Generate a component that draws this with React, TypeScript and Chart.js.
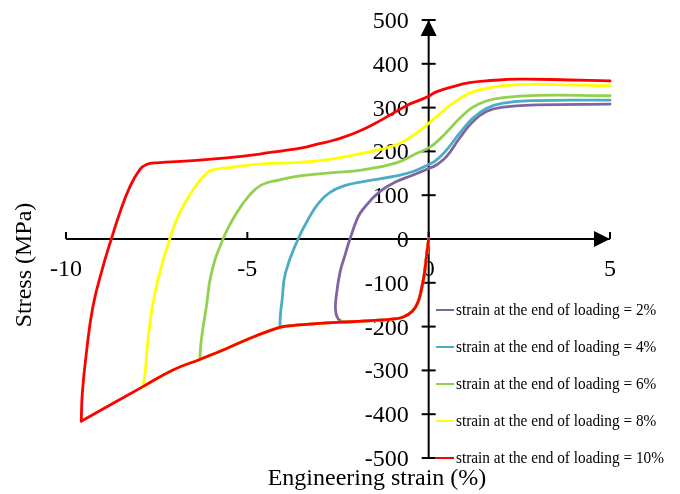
import { useEffect, useRef } from "react";
import { Chart, registerables } from "chart.js";

Chart.register(...registerables);

// ---------- text ----------
const X_TICKS = [-10, -5, 0, 5];
const Y_TICKS = [-500, -400, -300, -200, -100, 0, 100, 200, 300, 400, 500];
const X_TITLE = "Engineering strain (%)";
const Y_TITLE = "Stress (MPa)";
const SERIES_LABELS = [
  "strain at the end of loading = 2%",
  "strain at the end of loading = 4%",
  "strain at the end of loading = 6%",
  "strain at the end of loading = 8%",
  "strain at the end of loading = 10%",
];
const SERIES_COLORS = ["#8064A2", "#4BACC6", "#92D050", "#FFFF00", "#FF0000"];

// ---------- data ----------
// shared compressive loading branch (from origin to the left)
const COMP_X = [0, -0.06, -0.12, -0.2, -0.3, -0.45, -0.7, -1.0, -1.72, -2.4, -3.1, -3.7, -4.02, -4.3, -4.94, -5.6, -6.31, -7.05, -7.88, -8.7, -9.58];
const COMP_Y = [0, -40, -80, -115, -145, -165, -178, -183, -187, -190, -193, -197, -200, -207, -227, -251, -275, -299, -337, -375, -416];

// end of loading points
const END_2 = [-2.3, -189];
const END_4 = [-4.1, -201];
const END_6 = [-6.31, -275];
const END_8 = [-7.88, -338];
const END_10 = [-9.58, -416];

// reverse (tensile) branches
const REV_2_X = [-2.45, -2.53, -2.57, -2.56, -2.45, -2.3, -2.15, -1.95, -1.81, -1.35, -0.89, -0.43, 0, 0.21, 0.49, 0.85, 1.22, 1.59, 2.05, 2.97, 5];
const REV_2_Y = [-186, -177, -160, -139, -78, -35, 5, 50, 68, 108, 131, 146, 161, 169, 188, 230, 268, 291, 301, 306, 308];

const REV_4_X = [-4.09, -4.04, -3.95, -3.6, -3.28, -3.05, -2.73, -2.27, -1.81, -0.89, -0.43, 0, 0.21, 0.49, 0.85, 1.22, 1.59, 2.05, 2.97, 5];
const REV_4_Y = [-175, -139, -78, 0, 51, 80, 106, 123, 131, 144, 154, 170, 180, 203, 241, 276, 298, 310, 316, 317];

const REV_6_X = [-6.27, -6.13, -5.99, -5.67, -5.3, -4.94, -4.62, -4.11, -3.56, -2.73, -1.81, -0.89, -0.34, 0, 0.2, 0.45, 0.85, 1.2, 1.59, 2.05, 2.97, 5];
const REV_6_Y = [-231, -155, -78, 0, 59, 100, 123, 135, 144, 151, 158, 174, 195, 208, 220, 240, 275, 300, 315, 323, 328, 327];

const REV_8_X = [-7.82, -7.74, -7.62, -7.42, -7.14, -6.87, -6.5, -6.13, -5.95, -5.5, -4.66, -3.56, -2.73, -1.81, -0.89, -0.4, 0, 0.21, 0.67, 1.13, 1.59, 2.05, 2.97, 5];
const REV_8_Y = [-305, -231, -155, -78, 0, 59, 112, 150, 158, 163, 171, 175, 182, 196, 215, 238, 264, 279, 310, 333, 344, 350, 353, 350];

const REV_10_X = [-9.55, -9.44, -9.26, -8.98, -8.75, -8.52, -8.24, -7.97, -7.78, -7.5, -6.5, -5.5, -4.66, -4.0, -3.5, -3.1, -2.6, -2.0, -1.3, -0.6, -0.25, 0, 0.21, 0.67, 1.13, 1.59, 2.51, 3.89, 5];
const REV_10_Y = [-352, -261, -155, -63, 0, 59, 119, 158, 170, 174, 179, 186, 194, 202, 208, 216, 226, 243, 272, 305, 317, 326, 336, 348, 357, 361, 365, 363, 361];

function buildCurve(end: number[], revX: number[], revY: number[], sharp: boolean) {
  const pts: { x: number; y: number }[] = [];
  for (let i = 0; i < COMP_X.length; i++) {
    if (COMP_X[i] > end[0] + 0.01) pts.push({ x: COMP_X[i], y: COMP_Y[i] });
  }
  pts.push({ x: end[0], y: end[1] });
  if (sharp) pts.push({ x: end[0], y: end[1] });
  for (let i = 0; i < revX.length; i++) pts.push({ x: revX[i], y: revY[i] });
  return pts;
}

const CURVES = [
  buildCurve(END_2, REV_2_X, REV_2_Y, false),
  buildCurve(END_4, REV_4_X, REV_4_Y, true),
  buildCurve(END_6, REV_6_X, REV_6_Y, true),
  buildCurve(END_8, REV_8_X, REV_8_Y, true),
  buildCurve(END_10, REV_10_X, REV_10_Y, true),
];

const SERIF = '"Liberation Serif", "Times New Roman", serif';

const axesPlugin = {
  id: "centerAxes",
  beforeDatasetsDraw(chart: any) {
    const ctx = chart.ctx as CanvasRenderingContext2D;
    const xs = chart.scales.x;
    const ys = chart.scales.y;
    const x0 = xs.getPixelForValue(0);
    const y0 = ys.getPixelForValue(0);
    const xMin = xs.getPixelForValue(X_TICKS[0]);
    const xMax = xs.getPixelForValue(X_TICKS[X_TICKS.length - 1]);
    const yMin = ys.getPixelForValue(Y_TICKS[0]);
    const yMax = ys.getPixelForValue(Y_TICKS[Y_TICKS.length - 1]);
    ctx.save();
    ctx.strokeStyle = "#000";
    ctx.fillStyle = "#000";
    ctx.lineWidth = 2;
    // x axis
    ctx.beginPath();
    ctx.moveTo(xMin, y0);
    ctx.lineTo(xMax, y0);
    ctx.stroke();
    for (const t of X_TICKS) {
      const px = xs.getPixelForValue(t);
      ctx.beginPath();
      ctx.moveTo(px, y0);
      ctx.lineTo(px, y0 - 7);
      ctx.stroke();
    }
    // arrow right
    ctx.beginPath();
    ctx.moveTo(xMax, y0);
    ctx.lineTo(xMax - 16, y0 - 8);
    ctx.lineTo(xMax - 16, y0 + 8);
    ctx.closePath();
    ctx.fill();
    // y axis
    ctx.beginPath();
    ctx.moveTo(x0, yMin);
    ctx.lineTo(x0, yMax);
    ctx.stroke();
    for (const t of Y_TICKS) {
      const py = ys.getPixelForValue(t);
      ctx.beginPath();
      ctx.moveTo(x0 - 7, py);
      ctx.lineTo(x0 + 7, py);
      ctx.stroke();
    }
    // arrow up
    ctx.beginPath();
    ctx.moveTo(x0, yMax);
    ctx.lineTo(x0 - 8, yMax + 16);
    ctx.lineTo(x0 + 8, yMax + 16);
    ctx.closePath();
    ctx.fill();

    // tick labels
    ctx.font = `24px ${SERIF}`;
    ctx.textBaseline = "alphabetic";
    ctx.textAlign = "right";
    for (const t of Y_TICKS) {
      const py = ys.getPixelForValue(t);
      ctx.fillText(String(t), x0 - 20, py + 8);
    }
    ctx.textAlign = "center";
    for (const t of X_TICKS) {
      const px = xs.getPixelForValue(t);
      ctx.fillText(String(t), px, y0 + 37);
    }
    // titles
    ctx.fillText(X_TITLE, 377, 485);
    ctx.save();
    ctx.translate(31, 265);
    ctx.rotate(-Math.PI / 2);
    ctx.textAlign = "center";
    ctx.fillText(Y_TITLE, 0, 0);
    ctx.restore();
    ctx.restore();
  },
  afterDraw(chart: any) {
    const ctx = chart.ctx as CanvasRenderingContext2D;
    ctx.save();
    ctx.font = `17px ${SERIF}`;
    const longest = ctx.measureText(SERIES_LABELS[SERIES_LABELS.length - 1]).width;
    const sx = 208 / longest;
    const rowY = [310, 347, 384, 421, 458];
    for (let i = 0; i < SERIES_LABELS.length; i++) {
      const y = rowY[i];
      ctx.strokeStyle = SERIES_COLORS[i];
      ctx.lineWidth = 2;
      ctx.beginPath();
      ctx.moveTo(436, y);
      ctx.lineTo(454, y);
      ctx.stroke();
      ctx.save();
      ctx.translate(456, y + 5);
      ctx.scale(sx, 1);
      ctx.fillStyle = "#000";
      ctx.textAlign = "left";
      ctx.textBaseline = "alphabetic";
      ctx.fillText(SERIES_LABELS[i], 0, 0);
      ctx.restore();
    }
    ctx.restore();
  },
};

export default function App() {
  const ref = useRef<HTMLCanvasElement>(null);
  useEffect(() => {
    const order = [4, 3, 2, 1, 0];
    const datasets = order.map((i) => ({
      label: SERIES_LABELS[i],
      data: CURVES[i],
      showLine: true,
      borderColor: SERIES_COLORS[i],
      backgroundColor: SERIES_COLORS[i],
      borderWidth: 2.8,
      pointRadius: 0,
      pointHoverRadius: 0,
      tension: 0.45,
      borderCapStyle: "round" as const,
      borderJoinStyle: "round" as const,
      clip: false as const,
    }));
    const chart = new Chart(ref.current!, {
      type: "scatter",
      data: { datasets },
      options: {
        animation: false,
        responsive: false,
        devicePixelRatio: 1,
        events: [],
        layout: { padding: { left: 66, right: 70, top: 20, bottom: 36 } },
        plugins: { legend: { display: false }, tooltip: { enabled: false }, title: { display: false } },
        scales: {
          x: { type: "linear", min: -10, max: 5, display: false },
          y: { type: "linear", min: -500, max: 500, display: false },
        },
      },
      plugins: [axesPlugin],
    });
    return () => chart.destroy();
  }, []);
  return (
    <div style={{ position: "fixed", left: 0, top: 0, width: 680, height: 494, background: "#fff" }}>
      <canvas ref={ref} width={680} height={494} style={{ display: "block", width: 680, height: 494 }} />
    </div>
  );
}
